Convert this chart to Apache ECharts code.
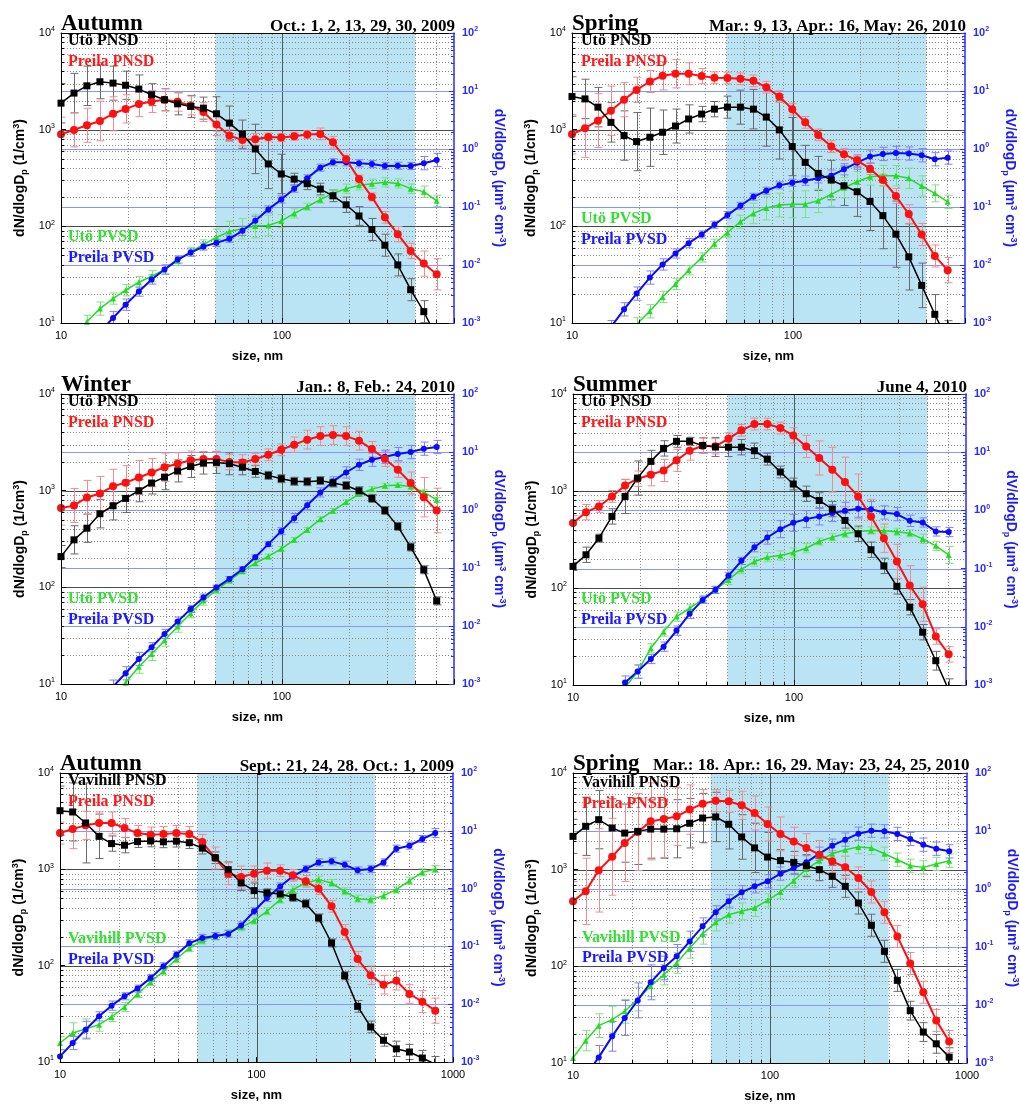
<!DOCTYPE html>
<html>
<head>
<meta charset="utf-8">
<script src="https://cdn.jsdelivr.net/npm/echarts@6/dist/echarts.min.js"></script>
<style>
  html, body { margin: 0; padding: 0; background: #ffffff; }
  #chart { width: 1020px; height: 1104px; }
</style>
</head>
<body>
<div id="chart"></div>
<script>
// Particle size bins (nm)
const sizeTop = [10, 11.45, 13.1, 15.0, 17.2, 19.6, 22.5, 25.7, 29.4, 33.7, 38.6, 44.1, 50.5, 57.8, 66.2, 75.7, 86.7, 99.2, 113.5, 130, 149, 170, 195, 223, 255, 292, 334, 382, 438, 501];
const sizeBottom = [10, 11.6, 13.5, 15.8, 18.3, 21.3, 24.8, 28.9, 33.6, 39.1, 45.5, 53.0, 61.7, 71.8, 83.5, 97.2, 113, 132, 153, 178, 207, 241, 281, 327, 381, 443, 515, 600, 698, 812];

// Autumn 2009, Utö / Preila
const utoN1 = [1880, 2390, 2840, 3130, 3030, 2880, 2630, 2300, 2040, 1850, 1740, 1670, 1460, 1170, 898, 632, 442, 348, 308, 276, 243, 207, 167, 128, 92.8, 63.8, 39.9, 22.1, 13.1, 7.1];
const preN1 = [897, 995, 1110, 1230, 1460, 1640, 1840, 1960, 2040, 1940, 1780, 1520, 1130, 868, 783, 796, 841, 828, 855, 890, 904, 741, 494, 308, 201, 124, 83, 55.7, 41.2, 31.9];
const utoV1 = [0.0003, 0.00057, 0.00105, 0.00177, 0.00264, 0.00367, 0.00505, 0.0064, 0.00835, 0.0119, 0.0169, 0.0226, 0.0298, 0.0379, 0.0421, 0.0469, 0.0481, 0.0571, 0.0775, 0.101, 0.134, 0.172, 0.207, 0.236, 0.252, 0.266, 0.255, 0.207, 0.184, 0.128];
const preV1 = [0.00015, 0.00025, 0.0004, 0.0007, 0.00122, 0.00207, 0.00348, 0.00561, 0.00835, 0.0124, 0.0164, 0.0208, 0.0241, 0.0283, 0.0389, 0.0579, 0.091, 0.135, 0.207, 0.312, 0.477, 0.59, 0.59, 0.566, 0.55, 0.509, 0.515, 0.509, 0.57, 0.647];
const utoN1Err = [1.6, 1.6, 1.6, 1.5, 1.5, 1.4, 1.4, 1.3, 1.3, 1.3, 1.3, 1.3, 1.5, 1.5, 1.4, 1.8, 1.8, 1.6, 1.15, 1.15, 1.15, 1.15, 1.2, 1.25, 1.3, 1.3, 1.3, 1.3, 1.3, 1.3];
const preN1Err = [1.5, 1.5, 1.5, 1.6, 1.5, 1.4, 1.35, 1.3, 1.3, 1.25, 1.25, 1.25, 1.3, 1.15, 1.15, 1.15, 1.1, 1.1, 1.1, 1.1, 1.15, 1.15, 1.1, 1.1, 1.1, 1.15, 1.2, 1.2, 1.35, 1.45];
const utoV1Err = [1.3, 1.3, 1.3, 1.3, 1.25, 1.25, 1.25, 1.25, 1.2, 1.2, 1.2, 1.2, 1.4, 1.5, 1.5, 1.6, 1.5, 1.3, 1.2, 1.15, 1.15, 1.15, 1.2, 1.2, 1.2, 1.2, 1.2, 1.2, 1.25, 1.25];
const preV1Err = [1.2, 1.2, 1.2, 1.2, 1.3, 1.25, 1.2, 1.2, 1.2, 1.15, 1.15, 1.15, 1.15, 1.15, 1.2, 1.2, 1.15, 1.15, 1.15, 1.15, 1.15, 1.15, 1.15, 1.15, 1.15, 1.15, 1.15, 1.15, 1.3, 1.3];

// Spring 2010, Utö / Preila
const utoN2 = [2200, 2080, 1710, 1190, 869, 753, 835, 940, 1090, 1290, 1450, 1630, 1710, 1710, 1630, 1350, 995, 668, 459, 353, 301, 263, 228, 181, 129, 83, 48.3, 24.5, 12.3, 6.6];
const preN2 = [897, 1035, 1240, 1570, 2040, 2580, 3150, 3610, 3790, 3790, 3580, 3440, 3420, 3360, 3200, 2750, 2200, 1630, 1190, 883, 668, 556, 482, 395, 301, 206, 134, 82.4, 49.4, 35.2];
const utoV2 = [0.00007, 0.00012, 0.0002, 0.00035, 0.0006, 0.00095, 0.00159, 0.00281, 0.00472, 0.00813, 0.0135, 0.0232, 0.0364, 0.0556, 0.0775, 0.0959, 0.108, 0.111, 0.112, 0.128, 0.165, 0.215, 0.273, 0.333, 0.347, 0.347, 0.312, 0.23, 0.172, 0.123];
const preV2 = [0.0001, 0.0002, 0.0004, 0.00085, 0.00172, 0.00321, 0.00607, 0.0102, 0.0158, 0.0238, 0.0336, 0.0494, 0.0726, 0.105, 0.15, 0.191, 0.236, 0.262, 0.284, 0.312, 0.347, 0.447, 0.582, 0.739, 0.822, 0.855, 0.835, 0.78, 0.665, 0.71];
const utoN2Err = [1.6, 1.6, 1.6, 1.6, 1.8, 2.0, 2.0, 1.7, 1.5, 1.4, 1.2, 1.2, 1.3, 1.5, 1.6, 2.0, 2.0, 2.0, 1.5, 1.5, 1.6, 1.6, 1.8, 2.0, 2.2, 2.2, 2.2, 1.7, 1.6, 1.6];
const preN2Err = [1.6, 2.0, 1.9, 1.8, 1.5, 1.35, 1.3, 1.4, 1.4, 1.3, 1.2, 1.15, 1.15, 1.15, 1.15, 1.15, 1.15, 1.15, 1.15, 1.15, 1.15, 1.15, 1.15, 1.15, 1.15, 1.2, 1.25, 1.3, 1.3, 1.35];
const utoV2Err = [1.3, 1.3, 1.3, 1.3, 1.3, 1.3, 1.3, 1.25, 1.25, 1.2, 1.2, 1.2, 1.2, 1.3, 1.5, 1.6, 1.6, 1.7, 1.7, 1.6, 1.6, 1.5, 1.5, 1.4, 1.5, 1.5, 1.5, 1.5, 1.4, 1.3];
const preV2Err = [1.3, 1.3, 1.3, 1.3, 1.3, 1.3, 1.3, 1.25, 1.2, 1.2, 1.15, 1.15, 1.15, 1.15, 1.15, 1.15, 1.15, 1.15, 1.2, 1.2, 1.25, 1.25, 1.3, 1.3, 1.3, 1.3, 1.3, 1.3, 1.3, 1.3];

// Winter 2010, Utö / Preila
const utoN3 = [208, 310, 409, 577, 698, 832, 998, 1200, 1380, 1600, 1780, 1930, 1960, 1900, 1750, 1580, 1440, 1330, 1250, 1240, 1270, 1200, 1130, 998, 832, 624, 427, 261, 152, 72.4];
const preN3 = [660, 703, 851, 936, 1110, 1210, 1370, 1540, 1750, 1900, 2060, 2120, 2120, 1980, 1960, 2120, 2350, 2650, 2990, 3370, 3670, 3760, 3670, 3290, 2690, 2140, 1650, 1200, 857, 624];
const utoV3 = [0.00006, 0.0001, 0.0002, 0.00035, 0.0006, 0.00105, 0.00199, 0.0033, 0.0056, 0.00977, 0.0166, 0.0274, 0.042, 0.0608, 0.0881, 0.121, 0.158, 0.214, 0.306, 0.455, 0.695, 0.968, 1.37, 1.88, 2.29, 2.62, 2.69, 2.55, 2.03, 1.5];
const preV3 = [0.0001, 0.00018, 0.0003, 0.0005, 0.0009, 0.00153, 0.0027, 0.0043, 0.0073, 0.0119, 0.0197, 0.0309, 0.046, 0.0649, 0.0953, 0.153, 0.258, 0.432, 0.724, 1.21, 2.01, 3.11, 4.45, 6.03, 7.36, 8.28, 9.2, 9.98, 11.4, 12.2];
const utoN3Err = [1.3, 1.4, 1.4, 1.4, 1.4, 1.4, 1.3, 1.3, 1.35, 1.3, 1.3, 1.3, 1.3, 1.3, 1.2, 1.15, 1.1, 1.1, 1.1, 1.1, 1.1, 1.1, 1.1, 1.1, 1.1, 1.1, 1.1, 1.1, 1.1, 1.1];
const preN3Err = [1.5, 1.5, 1.5, 1.5, 1.5, 1.5, 1.5, 1.4, 1.4, 1.3, 1.25, 1.2, 1.2, 1.2, 1.2, 1.15, 1.15, 1.15, 1.2, 1.25, 1.25, 1.25, 1.25, 1.25, 1.2, 1.2, 1.2, 1.3, 1.6, 1.7];
const utoV3Err = [1.3, 1.3, 1.3, 1.3, 1.3, 1.3, 1.3, 1.3, 1.25, 1.25, 1.2, 1.2, 1.15, 1.1, 1.1, 1.1, 1.1, 1.1, 1.1, 1.1, 1.1, 1.1, 1.1, 1.1, 1.1, 1.1, 1.1, 1.1, 1.1, 1.1];
const preV3Err = [1.3, 1.3, 1.3, 1.3, 1.3, 1.3, 1.3, 1.2, 1.2, 1.2, 1.15, 1.15, 1.1, 1.1, 1.1, 1.1, 1.1, 1.15, 1.2, 1.2, 1.2, 1.2, 1.25, 1.25, 1.3, 1.3, 1.3, 1.3, 1.3, 1.3];

// Summer 2010, Utö / Preila
const utoN4 = [167, 220, 326, 547, 879, 1360, 2020, 2750, 3250, 3250, 2950, 2840, 2830, 2830, 2600, 2130, 1570, 1180, 936, 799, 651, 497, 362, 248, 169, 104, 63.4, 35, 17.8, 8.9];
const preN4 = [467, 605, 693, 879, 1140, 1340, 1470, 1630, 2070, 2600, 2930, 2890, 3460, 4220, 4900, 4900, 4460, 3740, 2880, 2190, 1660, 1240, 879, 547, 326, 188, 106, 68.1, 31.6, 20.7];
const utoV4 = [0.00005, 0.0001, 0.0002, 0.0004, 0.0009, 0.0017, 0.00428, 0.00826, 0.015, 0.0208, 0.0298, 0.0431, 0.064, 0.0977, 0.132, 0.157, 0.168, 0.189, 0.224, 0.292, 0.347, 0.396, 0.435, 0.452, 0.447, 0.43, 0.406, 0.324, 0.246, 0.172];
const preV4 = [0.00006, 0.00012, 0.00025, 0.0005, 0.0011, 0.0017, 0.0028, 0.00456, 0.0086, 0.0167, 0.029, 0.0431, 0.075, 0.136, 0.233, 0.342, 0.476, 0.612, 0.708, 0.787, 0.898, 0.984, 1.07, 1.05, 0.921, 0.863, 0.662, 0.62, 0.435, 0.425];
const utoN4Err = [1.1, 1.2, 1.1, 1.2, 1.5, 1.5, 1.3, 1.2, 1.15, 1.1, 1.2, 1.25, 1.25, 1.2, 1.2, 1.15, 1.15, 1.15, 1.2, 1.2, 1.2, 1.2, 1.2, 1.2, 1.2, 1.2, 1.2, 1.2, 1.25, 1.3];
const preN4Err = [1.2, 1.2, 1.15, 1.15, 1.15, 1.2, 1.3, 1.3, 1.3, 1.25, 1.2, 1.2, 1.15, 1.15, 1.15, 1.15, 1.15, 1.2, 1.3, 1.5, 1.7, 1.8, 1.7, 1.5, 1.4, 1.5, 1.6, 1.5, 1.2, 1.2];
const utoV4Err = [1.3, 1.3, 1.3, 1.3, 1.3, 1.3, 1.2, 1.2, 1.2, 1.15, 1.15, 1.15, 1.2, 1.2, 1.2, 1.2, 1.2, 1.2, 1.2, 1.15, 1.15, 1.15, 1.15, 1.15, 1.15, 1.15, 1.15, 1.2, 1.2, 1.4];
const preV4Err = [1.3, 1.3, 1.3, 1.3, 1.3, 1.3, 1.2, 1.2, 1.2, 1.2, 1.15, 1.15, 1.15, 1.15, 1.2, 1.3, 1.4, 1.4, 1.4, 1.4, 1.4, 1.4, 1.4, 1.35, 1.3, 1.3, 1.25, 1.2, 1.2, 1.2];

// Autumn 2009, Vavihill / Preila
const vavN5 = [4060, 3940, 3030, 2200, 1850, 1780, 1940, 1970, 1930, 1960, 1890, 1660, 1320, 993, 722, 601, 570, 555, 512, 440, 313, 172, 78.7, 37.8, 23.1, 16.8, 13.7, 12.7, 11.0, 9.5];
const preN5 = [2380, 2620, 2860, 3030, 3030, 2690, 2380, 2290, 2320, 2380, 2320, 1920, 1310, 902, 832, 902, 969, 969, 867, 750, 630, 413, 223, 117, 79.4, 63.5, 69.8, 50.8, 42.3, 34.1];
const vavV5 = [0.00213, 0.00318, 0.00372, 0.00443, 0.00601, 0.00895, 0.015, 0.0242, 0.0371, 0.0605, 0.0938, 0.127, 0.149, 0.171, 0.214, 0.279, 0.405, 0.644, 0.959, 1.25, 1.43, 1.25, 0.897, 0.67, 0.644, 0.755, 0.959, 1.37, 1.91, 2.18];
const preV5 = [0.00125, 0.00213, 0.00362, 0.00617, 0.00944, 0.0137, 0.0186, 0.0284, 0.0452, 0.0719, 0.113, 0.14, 0.151, 0.164, 0.231, 0.405, 0.687, 1.09, 1.63, 2.18, 2.84, 2.96, 2.59, 2.07, 2.18, 2.84, 4.91, 5.53, 7.21, 9.16];
const vavN5Err = [1.8, 2.0, 2.6, 1.7, 1.2, 1.2, 1.15, 1.15, 1.15, 1.15, 1.15, 1.15, 1.15, 1.2, 1.2, 1.2, 1.1, 1.1, 1.1, 1.1, 1.1, 1.1, 1.1, 1.15, 1.15, 1.15, 1.2, 1.2, 1.2, 1.2];
const preN5Err = [1.3, 1.6, 1.4, 1.3, 1.3, 1.25, 1.2, 1.2, 1.2, 1.2, 1.2, 1.2, 1.3, 1.3, 1.3, 1.2, 1.2, 1.15, 1.15, 1.15, 1.15, 1.15, 1.2, 1.2, 1.25, 1.25, 1.25, 1.25, 1.3, 1.35];
const vavV5Err = [1.3, 1.5, 1.5, 1.3, 1.2, 1.2, 1.15, 1.15, 1.15, 1.15, 1.15, 1.15, 1.15, 1.15, 1.15, 1.15, 1.15, 1.15, 1.15, 1.15, 1.15, 1.15, 1.15, 1.15, 1.15, 1.15, 1.15, 1.15, 1.15, 1.15];
const preV5Err = [1.3, 1.3, 1.4, 1.2, 1.2, 1.15, 1.15, 1.15, 1.15, 1.15, 1.15, 1.15, 1.15, 1.15, 1.15, 1.15, 1.15, 1.15, 1.15, 1.15, 1.15, 1.15, 1.15, 1.15, 1.15, 1.15, 1.15, 1.15, 1.15, 1.2];

// Spring 2010, Vavihill / Preila
const vavN6 = [2210, 2810, 3290, 2700, 2390, 2490, 2630, 2630, 2650, 3020, 3420, 3510, 2950, 2180, 1680, 1350, 1240, 1190, 1100, 1000, 853, 672, 452, 266, 143, 71.6, 34.8, 20.9, 15.8, 11.5];
const preN6 = [470, 597, 984, 1360, 1890, 2450, 3160, 3340, 3560, 4180, 4820, 5170, 5090, 4630, 3860, 2970, 2340, 1960, 1680, 1430, 1220, 1060, 820, 588, 362, 204, 107, 53.9, 27.6, 16.7];
const vavV6 = [0.00122, 0.00243, 0.0044, 0.00559, 0.00778, 0.0127, 0.021, 0.0333, 0.053, 0.0962, 0.168, 0.266, 0.36, 0.412, 0.47, 0.638, 0.887, 1.39, 2.21, 3.08, 4.06, 4.76, 5.3, 5.09, 4.06, 3.2, 2.52, 2.36, 2.7, 3.08];
const preV6 = [0.0003, 0.0006, 0.00125, 0.00288, 0.00597, 0.012, 0.0246, 0.0435, 0.069, 0.125, 0.227, 0.396, 0.612, 0.877, 1.11, 1.36, 1.84, 2.3, 2.88, 4.06, 5.58, 7.1, 9.0, 10.1, 9.87, 8.9, 7.28, 5.81, 4.96, 4.46];
const vavN6Err = [1.5, 2.0, 2.0, 2.0, 2.0, 2.2, 2.0, 2.0, 2.0, 1.8, 1.8, 1.8, 1.8, 1.7, 1.8, 1.8, 1.3, 1.3, 1.3, 1.3, 1.3, 1.3, 1.3, 1.3, 1.3, 1.3, 1.25, 1.25, 1.25, 1.25];
const preN6Err = [1.6, 2.2, 2.7, 2.5, 2.5, 2.5, 2.5, 2.5, 2.0, 1.8, 1.4, 1.3, 1.3, 1.4, 1.5, 1.5, 1.5, 1.4, 1.4, 1.4, 1.3, 1.3, 1.3, 1.3, 1.3, 1.3, 1.3, 1.3, 1.3, 1.3];
const vavV6Err = [1.5, 1.5, 1.6, 1.7, 1.6, 1.6, 1.5, 1.5, 1.5, 1.5, 1.5, 1.4, 1.4, 1.4, 1.4, 1.3, 1.3, 1.3, 1.3, 1.3, 1.3, 1.3, 1.3, 1.3, 1.3, 1.3, 1.3, 1.3, 1.3, 1.3];
const preV6Err = [1.5, 1.5, 1.6, 1.8, 2.0, 2.0, 2.0, 1.6, 1.6, 1.5, 1.4, 1.3, 1.3, 1.3, 1.3, 1.3, 1.3, 1.3, 1.3, 1.3, 1.3, 1.3, 1.3, 1.3, 1.3, 1.3, 1.3, 1.3, 1.3, 1.3];

// Grid / tick positions
const minorX = [20, 30, 40, 50, 60, 70, 80, 90, 200, 300, 400, 500, 600, 700, 800, 900];
const majorX = [100];
const minorYL = [20, 30, 40, 50, 60, 70, 80, 90, 200, 300, 400, 500, 600, 700, 800, 900, 2000, 3000, 4000, 5000, 6000, 7000, 8000, 9000];
const majorYL = [100, 1000];
const minorYR = [0.002, 0.003, 0.004, 0.005, 0.006, 0.007, 0.008, 0.009, 0.02, 0.03, 0.04, 0.05, 0.06, 0.07, 0.08, 0.09,
                 0.2, 0.3, 0.4, 0.5, 0.6, 0.7, 0.8, 0.9, 2, 3, 4, 5, 6, 7, 8, 9, 20, 30, 40, 50, 60, 70, 80, 90];
const majorYR = [0.01, 0.1, 1, 10];
const shadeRange = [50, 400];
const yLeftRange = [10, 10000];
const yRightRange = [0.001, 100];

const COL = { black: '#000000', red: '#ff1010', green: '#22dd22', blue: '#0a0aff' };
const ERRCOL = { black: '#6a6a6a', red: '#f08c8c', green: '#80e080', blue: '#7f7fff' };
const TXTCOL = { black: '#000000', red: '#ff1a1a', green: '#33e033', blue: '#1a1aff' };
const SERIF = '"Liberation Serif", "Times New Roman", serif';
const SANS = '"Liberation Sans", Arial, sans-serif';

const panels = [
  { grid: { left: 61, top: 33, width: 393, height: 290 }, xMax: 600, size: sizeTop,
    title: 'Autumn', date: 'Oct.: 1, 2, 13, 29, 30, 2009', dateLeft: null,
    names: ['Utö PNSD', 'Preila PNSD', 'Utö PVSD', 'Preila PVSD'], labelX: 68, labelBase: [46, 67, 242, 263],
    n: [utoN1, preN1], v: [utoV1, preV1], ne: [utoN1Err, preN1Err], ve: [utoV1Err, preV1Err] },
  { grid: { left: 572, top: 33, width: 393, height: 290 }, xMax: 600, size: sizeTop,
    title: 'Spring', date: 'Mar.: 9, 13, Apr.: 16, May: 26, 2010', dateLeft: null,
    names: ['Utö PNSD', 'Preila PNSD', 'Utö PVSD', 'Preila PVSD'], labelX: 581, labelBase: [46, 67, 224, 245],
    n: [utoN2, preN2], v: [utoV2, preV2], ne: [utoN2Err, preN2Err], ve: [utoV2Err, preV2Err] },
  { grid: { left: 61, top: 394, width: 393, height: 290 }, xMax: 600, size: sizeTop,
    title: 'Winter', date: 'Jan.: 8, Feb.: 24, 2010', dateLeft: null,
    names: ['Utö PNSD', 'Preila PNSD', 'Utö PVSD', 'Preila PVSD'], labelX: 68, labelBase: [407, 428, 604, 625],
    n: [utoN3, preN3], v: [utoV3, preV3], ne: [utoN3Err, preN3Err], ve: [utoV3Err, preV3Err] },
  { grid: { left: 573, top: 394, width: 393, height: 291 }, xMax: 600, size: sizeTop,
    title: 'Summer', date: 'June 4, 2010', dateLeft: null,
    names: ['Utö PNSD', 'Preila PNSD', 'Utö PVSD', 'Preila PVSD'], labelX: 581, labelBase: [407, 428, 604, 625],
    n: [utoN4, preN4], v: [utoV4, preV4], ne: [utoN4Err, preN4Err], ve: [utoV4Err, preV4Err] },
  { grid: { left: 60, top: 773, width: 393, height: 289 }, xMax: 1000, size: sizeBottom,
    title: 'Autumn', date: 'Sept.: 21, 24, 28. Oct.: 1, 2009', dateLeft: null,
    names: ['Vavihill PNSD', 'Preila PNSD', 'Vavihill PVSD', 'Preila PVSD'], labelX: 68, labelBase: [786, 807, 944, 965],
    n: [vavN5, preN5], v: [vavV5, preV5], ne: [vavN5Err, preN5Err], ve: [vavV5Err, preV5Err] },
  { grid: { left: 573, top: 773, width: 394, height: 290 }, xMax: 1000, size: sizeBottom,
    title: 'Spring', date: 'Mar.: 18. Apr.: 16, 29. May: 23, 24, 25, 2010', dateLeft: 653,
    names: ['Vavihill PNSD', 'Preila PNSD', 'Vavihill PVSD', 'Preila PVSD'], labelX: 582, labelBase: [788, 809, 943, 963],
    n: [vavN6, preN6], v: [vavV6, preV6], ne: [vavN6Err, preN6Err], ve: [vavV6Err, preV6Err] }
];

const isDecade = v => Math.abs(Math.log10(v) - Math.round(Math.log10(v))) < 1e-6;
const powLabel = v => '{b|10}{s|' + Math.round(Math.log10(v)) + '}';

function segmentSeries(pi, yIdx, data, color, width, dash, z) {
  return {
    type: 'custom', xAxisIndex: 2 * pi, yAxisIndex: 2 * pi + yIdx, z: z, silent: true, animation: false,
    data: data, encode: { x: [0, 2], y: [1, 3] },
    renderItem: function (params, api) {
      const a = api.coord([api.value(0), api.value(1)]);
      const b = api.coord([api.value(2), api.value(3)]);
      let x1 = a[0], y1 = a[1], x2 = b[0], y2 = b[1];
      if (Math.abs(x1 - x2) < 0.01) { x1 = x2 = Math.round(x1) + 0.5; }
      if (Math.abs(y1 - y2) < 0.01) { y1 = y2 = Math.round(y1) + 0.5; }
      return { type: 'line', shape: { x1, y1, x2, y2 },
        style: { stroke: color, lineWidth: width, lineDash: dash } };
    }
  };
}

function tickSeries(pi, yIdx, data, color, z) {
  // data items: [x, y, dx, dy] -> short pixel tick starting at the data point
  return {
    type: 'custom', xAxisIndex: 2 * pi, yAxisIndex: 2 * pi + yIdx, z: z, silent: true, animation: false,
    data: data, encode: { x: 0, y: 1 },
    renderItem: function (params, api) {
      const p = api.coord([api.value(0), api.value(1)]);
      const dx = api.value(2), dy = api.value(3);
      let x = p[0], y = p[1];
      if (dx === 0) x = Math.round(x) + 0.5; else y = Math.round(y) + 0.5;
      return { type: 'line', shape: { x1: x, y1: y, x2: x + dx, y2: y + dy },
        style: { stroke: color, lineWidth: 1 } };
    }
  };
}

function errorSeries(pi, yIdx, sizes, vals, errs, color) {
  return {
    type: 'custom', xAxisIndex: 2 * pi, yAxisIndex: 2 * pi + yIdx, z: 3, silent: true, animation: false, clip: true,
    data: sizes.map((s, k) => [s, vals[k] / errs[k], vals[k] * errs[k]]),
    encode: { x: 0, y: [1, 2] },
    renderItem: function (params, api) {
      const lo = api.coord([api.value(0), api.value(1)]);
      const hi = api.coord([api.value(0), api.value(2)]);
      const x = Math.round(lo[0]) + 0.5, w = 4;
      const style = { stroke: color, lineWidth: 1 };
      return { type: 'group', children: [
        { type: 'line', shape: { x1: x, y1: lo[1], x2: x, y2: hi[1] }, style },
        { type: 'line', shape: { x1: x - w, y1: lo[1], x2: x + w, y2: lo[1] }, style },
        { type: 'line', shape: { x1: x - w, y1: hi[1], x2: x + w, y2: hi[1] }, style }
      ] };
    }
  };
}

function lineSeries(pi, yIdx, sizes, vals, color, symbol, symbolSize, width) {
  return {
    type: 'line', xAxisIndex: 2 * pi, yAxisIndex: 2 * pi + yIdx, z: 4, animation: false, clip: true,
    data: sizes.map((s, k) => [s, vals[k]]),
    symbol: symbol, symbolSize: symbolSize, showAllSymbol: true,
    lineStyle: { color: color, width: width },
    itemStyle: { color: color, borderWidth: 0 }
  };
}

const option = { animation: false, backgroundColor: '#ffffff', grid: [], xAxis: [], yAxis: [], series: [], graphic: [] };

panels.forEach((p, pi) => {
  const xMin = 10, xMax = p.xMax;
  option.grid.push(Object.assign({ containLabel: false, outerBoundsMode: 'none' }, p.grid));

  option.xAxis.push({
    type: 'log', logBase: 10, gridIndex: pi, min: xMin, max: xMax, position: 'bottom', z: 10,
    name: 'size, nm', nameLocation: 'middle', nameGap: 27, nameMoveOverlap: false,
    nameTextStyle: { fontFamily: SANS, fontWeight: 'bold', fontSize: 13, color: '#000' },
    axisLine: { show: true, onZero: false, lineStyle: { color: '#000', width: 1 } },
    axisTick: { show: true, inside: true, length: 5, lineStyle: { color: '#000' } },
    axisLabel: { fontFamily: SANS, fontSize: 11, color: '#000', margin: 7,
      formatter: v => isDecade(v) ? String(Math.round(v)) : '' },
    splitLine: { show: false }, minorTick: { show: false }
  });
  option.xAxis.push({
    type: 'log', logBase: 10, gridIndex: pi, min: xMin, max: xMax, position: 'top', z: 10,
    axisLine: { show: true, onZero: false, lineStyle: { color: '#000', width: 1 } },
    axisTick: { show: false }, axisLabel: { show: false }, splitLine: { show: false }
  });

  option.yAxis.push({
    type: 'log', logBase: 10, gridIndex: pi, min: yLeftRange[0], max: yLeftRange[1], position: 'left', z: 10,
    name: '{b|dN/dlogD}{sb|p}{b| (1/cm}{sp|3}{b|)}', nameLocation: 'middle', nameRotate: 90, nameGap: 32,
    nameMoveOverlap: false,
    nameTextStyle: { rich: {
      b: { fontFamily: SANS, fontWeight: 'bold', fontSize: 14, color: '#000' },
      sb: { fontFamily: SANS, fontWeight: 'bold', fontSize: 9, color: '#000', padding: [8, 0, 0, 0] },
      sp: { fontFamily: SANS, fontWeight: 'bold', fontSize: 9, color: '#000', padding: [0, 0, 8, 0] } } },
    axisLine: { show: true, onZero: false, lineStyle: { color: '#000', width: 1 } },
    axisTick: { show: true, inside: true, length: 5, lineStyle: { color: '#000' } },
    axisLabel: { formatter: powLabel, margin: 6, rich: {
      b: { fontFamily: SANS, fontSize: 11, color: '#000' },
      s: { fontFamily: SANS, fontSize: 7, color: '#000', padding: [0, 0, 7, 0] } } },
    splitLine: { show: false }
  });
  option.yAxis.push({
    type: 'log', logBase: 10, gridIndex: pi, min: yRightRange[0], max: yRightRange[1], position: 'right', z: 10,
    name: '{b|dV/dlogD}{sb|p}{b| (μm}{sp|3}{b| cm}{sp|-3}{b|)}', nameLocation: 'middle', nameRotate: -90, nameGap: 36,
    nameMoveOverlap: false,
    nameTextStyle: { rich: {
      b: { fontFamily: SANS, fontWeight: 'bold', fontSize: 14, color: '#1a1aff' },
      sb: { fontFamily: SANS, fontWeight: 'bold', fontSize: 9, color: '#1a1aff', padding: [8, 0, 0, 0] },
      sp: { fontFamily: SANS, fontWeight: 'bold', fontSize: 9, color: '#1a1aff', padding: [0, 0, 8, 0] } } },
    axisLine: { show: true, onZero: false, lineStyle: { color: '#2a2aff', width: 1.5 } },
    axisTick: { show: true, inside: true, length: 5, lineStyle: { color: '#2a2aff' } },
    axisLabel: { formatter: powLabel, margin: 8, rich: {
      b: { fontFamily: SANS, fontSize: 11, fontWeight: 'bold', color: '#2a2aff' },
      s: { fontFamily: SANS, fontSize: 7, fontWeight: 'bold', color: '#2a2aff', padding: [0, 0, 7, 0] } } },
    splitLine: { show: false }
  });

  // shaded size window
  option.series.push({
    type: 'custom', xAxisIndex: 2 * pi, yAxisIndex: 2 * pi, z: 1, silent: true, animation: false,
    data: [[shadeRange[0], yLeftRange[0], shadeRange[1], yLeftRange[1]]], encode: { x: [0, 2], y: [1, 3] },
    renderItem: function (params, api) {
      const a = api.coord([api.value(0), api.value(1)]);
      const b = api.coord([api.value(2), api.value(3)]);
      return { type: 'rect', shape: { x: a[0], y: b[1], width: b[0] - a[0], height: a[1] - b[1] },
        style: { fill: '#bae3f3' } };
    }
  });

  // dotted minor grid
  const mx = minorX.filter(v => v < xMax);
  option.series.push(segmentSeries(pi, 0, mx.map(v => [v, yLeftRange[0], v, yLeftRange[1]]), '#8c8c8c', 1, [1, 2], 2));
  option.series.push(segmentSeries(pi, 0, minorYL.map(v => [xMin, v, xMax, v]), '#8c8c8c', 1, [1, 2], 2));
  // major grid lines
  option.series.push(segmentSeries(pi, 0, majorX.map(v => [v, yLeftRange[0], v, yLeftRange[1]]), '#4d5d66', 1, null, 2.2));
  option.series.push(segmentSeries(pi, 0, majorYL.map(v => [xMin, v, xMax, v]), '#4a4a4a', 1, null, 2.2));
  option.series.push(segmentSeries(pi, 1, majorYR.map(v => [xMin, v, xMax, v]), '#8796ff', 1, null, 2.2));
  // minor ticks
  option.series.push(tickSeries(pi, 0, mx.map(v => [v, yLeftRange[0], 0, -3]), '#000', 11));
  option.series.push(tickSeries(pi, 0, minorYL.map(v => [xMin, v, 3, 0]), '#000', 11));
  option.series.push(tickSeries(pi, 1, minorYR.map(v => [xMax, v, -3, 0]), '#2a2aff', 11));

  // error bars
  const keys = ['black', 'red', 'green', 'blue'];
  option.series.push(errorSeries(pi, 0, p.size, p.n[0], p.ne[0], ERRCOL.black));
  option.series.push(errorSeries(pi, 0, p.size, p.n[1], p.ne[1], ERRCOL.red));
  option.series.push(errorSeries(pi, 1, p.size, p.v[0], p.ve[0], ERRCOL.green));
  option.series.push(errorSeries(pi, 1, p.size, p.v[1], p.ve[1], ERRCOL.blue));
  // size distributions
  option.series.push(lineSeries(pi, 1, p.size, p.v[0], COL.green, 'triangle', 6, 1.5));
  option.series.push(lineSeries(pi, 1, p.size, p.v[1], COL.blue, 'circle', 6, 2));
  option.series.push(lineSeries(pi, 0, p.size, p.n[1], COL.red, 'circle', 8, 2));
  option.series.push(lineSeries(pi, 0, p.size, p.n[0], COL.black, 'rect', 7, 1.5));

  // panel texts
  const gTop = p.grid.top;
  option.graphic.push({ type: 'text', x: p.grid.left, y: gTop - 8.5, z: 100, silent: true,
    style: { text: p.title, font: 'bold 23px ' + SERIF, fill: '#000', align: 'left', verticalAlign: 'middle' } });
  if (p.dateLeft == null) {
    option.graphic.push({ type: 'text', x: p.grid.left + p.grid.width + 1, y: gTop - 6.5, z: 100, silent: true,
      style: { text: p.date, font: 'bold 17px ' + SERIF, fill: '#000', align: 'right', verticalAlign: 'middle' } });
  } else {
    option.graphic.push({ type: 'text', x: p.dateLeft, y: gTop - 7.5, z: 100, silent: true,
      style: { text: p.date, font: 'bold 17px ' + SERIF, fill: '#000', align: 'left', verticalAlign: 'middle' } });
  }
  p.names.forEach((nm, j) => {
    option.graphic.push({ type: 'text', x: p.labelX, y: p.labelBase[j] - 5.5, z: 100, silent: true,
      style: { text: nm, font: 'bold 16px ' + SERIF, fill: TXTCOL[keys[j]], align: 'left', verticalAlign: 'middle' } });
  });
});

const chart = echarts.init(document.getElementById('chart'), null, { renderer: 'canvas' });
chart.setOption(option);
</script>
</body>
</html>
